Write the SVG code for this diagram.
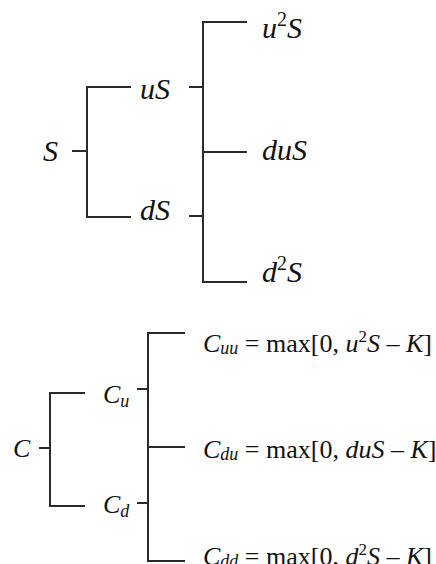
<svg xmlns="http://www.w3.org/2000/svg" width="436" height="564" viewBox="0 0 436 564">
<style>
text{font-family:"Liberation Serif","Times New Roman",serif;font-size:26px;fill:#111}
.top{font-size:30px}
.i{font-style:italic}
.sub{font-size:18px;font-style:italic}
.sup{font-size:17px}
.top .sup{font-size:20px}
.ln line{stroke:#2a2a2a;stroke-width:2;stroke-linecap:square;fill:none}
</style>
<rect width="436" height="564" fill="#fff"/>
<g id="connectors" class="ln">
<line x1="73" y1="151" x2="87" y2="151"/>
<line x1="87" y1="87" x2="87" y2="217"/>
<line x1="87" y1="87" x2="130" y2="87"/>
<line x1="87" y1="217" x2="130" y2="217"/>
<line x1="190" y1="87" x2="203" y2="87"/>
<line x1="190" y1="216" x2="203" y2="216"/>
<line x1="203" y1="22" x2="203" y2="282"/>
<line x1="203" y1="22" x2="246" y2="22"/>
<line x1="203" y1="152" x2="246" y2="152"/>
<line x1="203" y1="282" x2="246" y2="282"/>
<line x1="40" y1="448" x2="50" y2="448"/>
<line x1="50" y1="393" x2="50" y2="506"/>
<line x1="50" y1="393" x2="84" y2="393"/>
<line x1="50" y1="506" x2="84" y2="506"/>
<line x1="138" y1="389" x2="148" y2="389"/>
<line x1="138" y1="503" x2="148" y2="503"/>
<line x1="148" y1="333" x2="148" y2="561"/>
<line x1="148" y1="333" x2="184" y2="333"/>
<line x1="148" y1="447" x2="184" y2="447"/>
<line x1="148" y1="561" x2="184" y2="561"/>
</g>
<g id="S"><text x="43" y="161" class="top i">S</text></g>
<g id="uS"><text x="140" y="99" class="top i">uS</text></g>
<g id="dS"><text x="140" y="220" class="top i">dS</text></g>
<g id="u2S"><text x="262" y="38" class="top"><tspan class="i">u</tspan><tspan class="sup" dy="-12">2</tspan><tspan class="i" dy="12">S</tspan></text></g>
<g id="duS"><text x="262" y="160" class="top i">duS</text></g>
<g id="d2S"><text x="262" y="282" class="top"><tspan class="i">d</tspan><tspan class="sup" dy="-12">2</tspan><tspan class="i" dy="12">S</tspan></text></g>
<g id="C"><text x="13" y="457" class="i">C</text></g>
<g id="Cu"><text x="103" y="403"><tspan class="i">C</tspan><tspan class="sub" dy="4">u</tspan></text></g>
<g id="Cd"><text x="103" y="513"><tspan class="i">C</tspan><tspan class="sub" dy="4">d</tspan></text></g>
<g id="Cuu"><text x="203" y="352"><tspan class="i">C</tspan><tspan class="sub" dy="2">uu</tspan><tspan dy="-2"> = max[0, </tspan><tspan class="i">u</tspan><tspan class="sup" dy="-10">2</tspan><tspan class="i" dy="10">S</tspan> – <tspan class="i">K</tspan>]</text></g>
<g id="Cdu"><text x="203" y="458"><tspan class="i">C</tspan><tspan class="sub" dy="2">du</tspan><tspan dy="-2"> = max[0, </tspan><tspan class="i">duS</tspan> – <tspan class="i">K</tspan>]</text></g>
<g id="Cdd"><text x="203" y="565"><tspan class="i">C</tspan><tspan class="sub" dy="2">dd</tspan><tspan dy="-2"> = max[0, </tspan><tspan class="i">d</tspan><tspan class="sup" dy="-10">2</tspan><tspan class="i" dy="10">S</tspan> – <tspan class="i">K</tspan>]</text></g>
</svg>
